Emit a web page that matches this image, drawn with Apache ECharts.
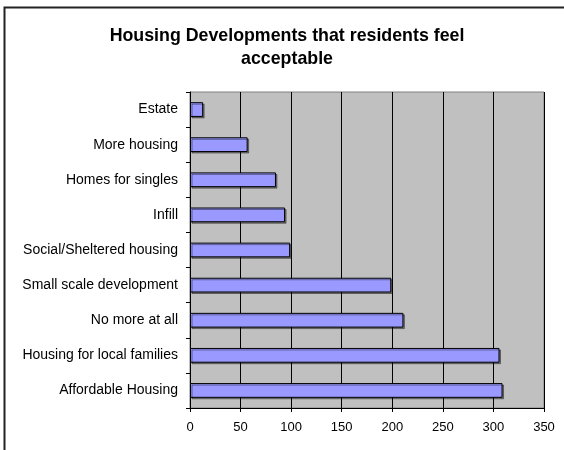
<!DOCTYPE html>
<html>
<head>
<meta charset="utf-8">
<script src="https://cdn.jsdelivr.net/npm/echarts@6/dist/echarts.min.js"></script>
<style>
html,body{margin:0;padding:0;background:#fff;}
#chart{width:564px;height:450px;}
</style>
</head>
<body>
<div id="chart"></div>
<script>
// Categories listed from bottom to top (ECharts category y axis starts at the bottom)
const categories = [
  'Affordable Housing',
  'Housing for local families',
  'No more at all',
  'Small scale development',
  'Social/Sheltered housing',
  'Infill',
  'Homes for singles',
  'More housing',
  'Estate'
];
const values = [309, 306, 211, 199, 99, 94, 85, 57, 13];
const titleText = 'Housing Developments that residents feel\nacceptable';

const chart = echarts.init(document.getElementById('chart'), null, {renderer: 'canvas'});
const font = 'Liberation Sans, Arial, sans-serif';
chart.setOption({
  animation: false,
  backgroundColor: '#ffffff',
  textStyle: {fontFamily: font},
  title: {
    text: titleText,
    left: 282,
    top: 20,
    textAlign: 'center',
    textStyle: {fontFamily: font, fontSize: 17.8, fontWeight: 'bold', color: '#000', lineHeight: 23, align: 'center'}
  },
  graphic: [{
    type: 'rect',
    shape: {x: 4.5, y: 7.5, width: 700, height: 600},
    style: {fill: 'none', stroke: '#222', lineWidth: 2},
    silent: true
  }],
  grid: {
    left: 190, right: 20, top: 92, bottom: 42,
    show: true, backgroundColor: '#C0C0C0', borderColor: '#808080', borderWidth: 1
  },
  xAxis: {
    type: 'value', min: 0, max: 350, interval: 50,
    axisLine: {show: true, lineStyle: {color: '#000', width: 1}},
    axisTick: {show: true, length: 4, lineStyle: {color: '#000'}},
    axisLabel: {color: '#000', fontSize: 13, fontFamily: font, margin: 13},
    splitLine: {show: true, lineStyle: {color: '#000', width: 1}}
  },
  yAxis: {
    type: 'category', data: categories,
    axisLine: {show: true, lineStyle: {color: '#000', width: 1}},
    axisTick: {show: true, length: 4, lineStyle: {color: '#000'}},
    axisLabel: {color: '#000', fontSize: 14, fontFamily: font, margin: 12}
  },
  series: [{
    type: 'bar',
    data: values,
    barCategoryGap: '58%',
    itemStyle: {
      color: '#9999FF', borderColor: '#000', borderWidth: 1,
      shadowColor: 'rgba(0,0,0,0.4)', shadowOffsetX: 1.5, shadowOffsetY: 1.5, shadowBlur: 0
    }
  }]
});
</script>
</body>
</html>
